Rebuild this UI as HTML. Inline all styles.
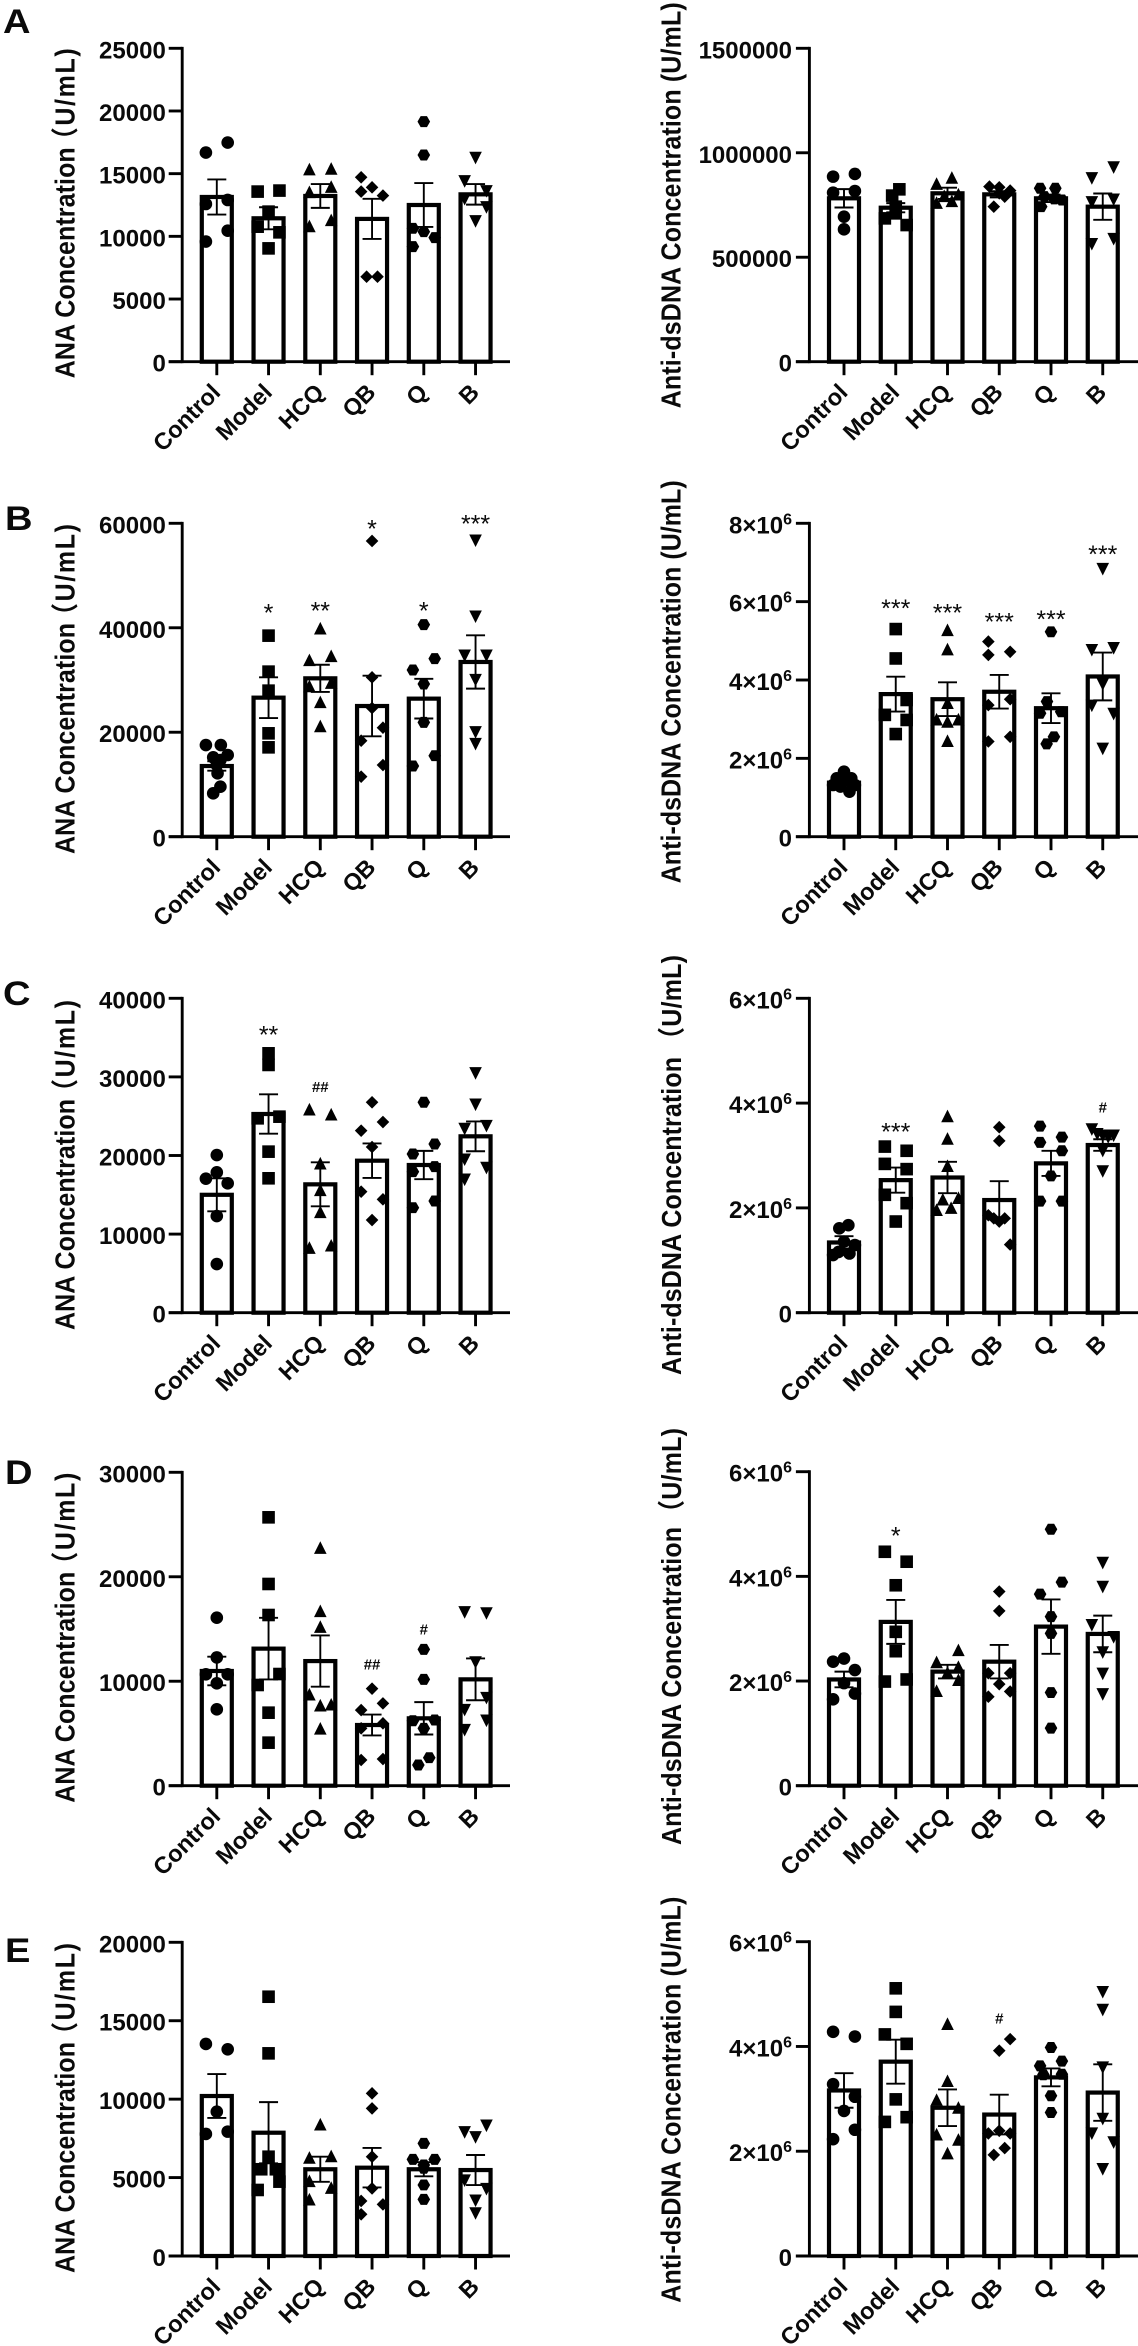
<!DOCTYPE html>
<html lang="en">
<head>
<meta charset="utf-8">
<title>ANA and Anti-dsDNA concentration bar charts</title>
<style>
html,body{margin:0;padding:0;background:#fff;}
svg{display:block;}
text{font-family:"Liberation Sans","Noto Sans CJK SC",sans-serif;fill:#0a0a0a;}
.title{font-size:25px;font-weight:bold;}
.letter{font-size:34px;font-weight:bold;}
.tick{font-size:24px;font-weight:bold;}
.xtick{font-size:23.5px;font-weight:bold;}
.sig{font-size:25px;}
.hash{font-size:15px;font-weight:bold;}
</style>
</head>
<body>
<svg id="figure" xmlns="http://www.w3.org/2000/svg" width="1138" height="2346" viewBox="0 0 1138 2346">
  <rect width="1138" height="2346" fill="#fff"/>
  <text class="letter" transform="translate(3,33) scale(1.12,1)">A</text>
  <text class="letter" transform="translate(5,530) scale(1.12,1)">B</text>
  <text class="letter" transform="translate(3,1005) scale(1.12,1)">C</text>
  <text class="letter" transform="translate(5,1484) scale(1.12,1)">D</text>
  <text class="letter" transform="translate(5,1962) scale(1.12,1)">E</text>

  <text class="title" transform="translate(74.5,378.3) rotate(-90) scale(1,1.1)"><tspan x="0" textLength="231">ANA Concentration</tspan><tspan x="226" textLength="104">（U/mL)</tspan></text>
  <text class="title" transform="translate(680.5,408.3) rotate(-90) scale(1,1.1)" textLength="406">Anti-dsDNA Concentration (U/mL)</text>
  <text class="title" transform="translate(74.5,854) rotate(-90) scale(1,1.1)"><tspan x="0" textLength="231">ANA Concentration</tspan><tspan x="226" textLength="104">（U/mL)</tspan></text>
  <text class="title" transform="translate(680.5,883.3) rotate(-90) scale(1,1.1)" textLength="403">Anti-dsDNA Concentration (U/mL)</text>
  <text class="title" transform="translate(74.5,1330) rotate(-90) scale(1,1.1)"><tspan x="0" textLength="231">ANA Concentration</tspan><tspan x="226" textLength="104">（U/mL)</tspan></text>
  <text class="title" transform="translate(681,1375) rotate(-90) scale(1,1.1)"><tspan x="0" textLength="318">Anti-dsDNA Concentration</tspan><tspan x="323" textLength="97">（U/mL)</tspan></text>
  <text class="title" transform="translate(74.5,1802.7) rotate(-90) scale(1,1.1)"><tspan x="0" textLength="231">ANA Concentration</tspan><tspan x="226" textLength="104">（U/mL)</tspan></text>
  <text class="title" transform="translate(681,1845) rotate(-90) scale(1,1.1)"><tspan x="0" textLength="318">Anti-dsDNA Concentration</tspan><tspan x="320" textLength="97">（U/mL)</tspan></text>
  <text class="title" transform="translate(74.5,2273) rotate(-90) scale(1,1.1)"><tspan x="0" textLength="231">ANA Concentration</tspan><tspan x="226" textLength="104">（U/mL)</tspan></text>
  <text class="title" transform="translate(680.5,2302.7) rotate(-90) scale(1,1.1)" textLength="406">Anti-dsDNA Concentration (U/mL)</text>
</svg>
<script>
const categories = ['Control','Model','HCQ','QB','Q','B'];
const markerShapes = ['circle','square','triangle','diamond','hexagon','triangleDown'];

/* Panel A, ANA */
const aAnaTicks = [0,5000,10000,15000,20000,25000];
const aAnaMeans = [13140,11440,13220,11390,12500,13350];
const aAnaSems = [1400,880,950,1600,1750,820];
const aAnaPoints = [[16680,17480,12580,12900,9580,10450],[13570,13650,11970,10770,10320,9040],[15300,15350,13490,13910,10770,11250],[14710,13910,13570,13250,6780,6780],[19150,16490,10640,10370,9900,9180],[16310,14440,13650,13030,12370,11250]];
const aAnaSlots = [[-1,1,-1,1,-1,1],[-1,1,0,-1,1,0],[-1,1,-1,1,-1,1],[-1,0,-1,1,-0.5,0.5],[0,0,-1,0,1,-1],[0,-1,1,-1,1,0]];
const aAnaSigLabels = ['','','','','',''];
const aAnaSigValues = [0,0,0,0,0,0];

/* Panel A, Anti-dsDNA */
const aDnaTicks = [0,500000,1000000,1500000];
const aDnaMeans = [782000,737000,806000,801000,782000,742000];
const aDnaSems = [44000,22000,27000,15000,18000,63000];
const aDnaPoints = [[885800,898500,809000,817000,694000,633600],[825000,795000,710000,686000,654000,742000],[849000,878000,798000,758000,766000,790000],[838000,835000,819000,742000,806000,790000],[830000,830000,790000,779000,774000,742000],[933000,881000,766000,779000,566000,590000]];
const aDnaSlots = [[-1,1,-1,1,0,0],[0.33,-0.33,0,-1,1,0],[-1,0.4,1,-1,0.4,-0.3],[-0.9,0,1,-0.5,0,0.5],[-1,0.4,-0.6,0.3,1,-0.9],[1,-1,-1,1,-1,1]];
const aDnaSigLabels = ['','','','','',''];
const aDnaSigValues = [0,0,0,0,0,0];

/* Panel B, ANA */
const bAnaTicks = [0,20000,40000,60000];
const bAnaMeans = [13530,26620,30320,25020,26430,33450];
const bAnaSems = [900,3900,2600,5800,3800,5100];
const bAnaPoints = [[17550,17550,15190,15640,14680,12130,9570,8300,13720],[38490,31600,27960,19790,17110],[39770,33700,34470,28720,29360,25660,21060],[56620,30510,24640,20870,18380,13720,11490],[40600,34090,31920,29230,21890,15510,13530],[56810,42260,34790,34790,30130,20110,17870]];
const bAnaSlots = [[-1,0.37,-0.33,1,0.33,0.07,0.33,-0.33,0],[0,0,0,0,0],[0,-1,1,-1,1,0,0],[0,0,0,1,-1,1,-1],[0,1,-1,0,0,1,-1],[0,0,-1,1,0,0,0]];
const bAnaSigLabels = ['','*','**','*','*','***'];
const bAnaSigValues = [0,43900,44300,60000,44300,60900];

/* Panel B, Anti-dsDNA */
const bDnaTicks = [0,2000000,4000000,6000000,8000000];
const bDnaMeans = [1380000,3640000,3510000,3700000,3280000,4090000];
const bDnaSems = [60000,445000,430000,430000,380000,610000];
const bDnaPoints = [[1660000,1490000,1490000,1570000,1320000,1320000,1150000,1280000],[5300000,4550000,3490000,3110000,2980000,2620000],[5260000,4770000,3400000,2980000,2920000,2980000,2430000],[4980000,4640000,4720000,3360000,3510000,2430000,2550000],[5230000,3450000,3150000,3190000,2550000,2370000],[6850000,4780000,4830000,3910000,3360000,3150000,2260000]];
const bDnaSlots = [[0,-0.67,0.67,0,-1,1,0.5,-0.33],[0,0,1,-1,1,0],[0,0,0,-1,0,1,0],[-1,-1,1,-1,1,-1,1],[0,-0.37,-1,0.93,0.27,-0.4],[0,-1,1,0,-1,1,0]];
const bDnaSigLabels = ['','***','***','***','***','***'];
const bDnaSigValues = [0,5960000,5850000,5620000,5680000,7350000];

/* Panel C, ANA */
const cAnaTicks = [0,10000,20000,30000,40000];
const cAnaMeans = [15000,25280,16330,19340,18790,22440];
const cAnaSems = [2100,2500,2800,2200,1800,1900];
const cAnaPoints = [[20060,17860,17050,16460,12300,6190],[33000,31520,24730,24940,20490,17100],[25790,25160,18920,15530,12730,8190,8480],[26770,24260,23160,21080,15400,14420,11790],[26770,21460,20190,18580,17940,14210,13360],[30540,26550,23840,23460,19560,18500,17010]];
const cAnaSlots = [[0,0,-1,1,0,0],[0,0,-1,1,0,0],[-1,1,0,0,0,-1,1],[0,1,-1,0,-1,1,0],[0,1,-1,1,-1,1,-1],[0,0,1,-1,-1,1,-1]];
const cAnaSigLabels = ['','**','##','','',''];
const cAnaSigValues = [0,36060,28760,0,0,0];

/* Panel C, Anti-dsDNA */
const cDnaTicks = [0,2000000,4000000,6000000];
const cDnaMeans = [1340000,2530000,2580000,2150000,2850000,3200000];
const cDnaSems = [120000,240000,300000,360000,240000,110000];
const cDnaPoints = [[1670000,1610000,1355000,1100000,1290000,1130000,1160000],[3170000,3090000,2840000,2740000,2250000,2090000,1740000],[3740000,3310000,2790000,2180000,2150000,1950000,1990000],[3540000,3280000,1860000,1800000,1740000,1800000,1300000],[3560000,3350000,3250000,3090000,2610000,2130000,2130000],[3510000,3420000,3390000,3360000,3390000,3100000,2710000]];
const cDnaSlots = [[0.4,-0.43,0,-1,1,0.5,-0.5],[-1,1,-1,1,-1,1,0],[0,0,0,1,-0.43,-1,0.33],[0,0,-1,-0.5,0,0.5,1],[-1,1,-1,1,0,-1,1],[-1,-0.5,0,0.5,1,0,0]];
const cDnaSigLabels = ['','***','','','','#'];
const cDnaSigValues = [0,3550000,0,0,0,3920000];

/* Panel D, ANA */
const dAnaTicks = [0,10000,20000,30000];
const dAnaMeans = [10980,13120,11930,5810,6450,10180];
const dAnaSems = [1370,2950,2450,1000,1550,2000];
const dAnaPoints = [[16080,12280,10660,10660,9800,7310],[25690,19310,16340,10690,9640,6990,4120],[22720,16660,15160,8680,7630,7720,5420],[9290,7880,7240,5970,5490,2460,2550],[13050,10180,6220,6290,5490,2680,1980],[16660,16560,11870,8460,7310,6290,5390]];
const dAnaSlots = [[0,0,-1,1,0,0],[0,0,0,1,-1,0,0],[0,0,0,-1,0,1,0],[0,1,-1,1,-1,-1,1],[0,0,-1,1,0,0.5,-0.5],[-1,1,0,1,-1,1,-1]];
const dAnaSigLabels = ['','','','##','#',''];
const dAnaSigValues = [0,0,0,11650,14970,0];

/* Panel D, Anti-dsDNA */
const dDnaTicks = [0,2000000,4000000,6000000];
const dDnaMeans = [2030000,3130000,2180000,2370000,3040000,2900000];
const dDnaSems = [150000,420000,130000,320000,520000,350000];
const dDnaPoints = [[2370000,2430000,2210000,1960000,1650000,1760000],[4470000,4280000,3830000,2940000,2570000,1990000,2030000],[2580000,2350000,2260000,2150000,2010000,1800000],[3710000,3340000,2150000,2150000,1940000,1800000,1700000],[4900000,3890000,3660000,3230000,2910000,1780000,1100000],[4270000,3810000,3080000,2850000,2560000,2150000,1760000]];
const dDnaSlots = [[-1,0,1,0,-1,1],[-1,1,0,0,0,-1,1],[1,-1,1,0,1,-1],[0,0,-1,1,0,1,-1],[0,1,-1,0,0,0,0],[0,0,-1,1,0,0,0]];
const dDnaSigLabels = ['','*','','','',''];
const dDnaSigValues = [0,4880000,0,0,0,0];

/* Panel E, ANA */
const eAnaTicks = [0,5000,10000,15000,20000];
const eAnaMeans = [10200,7860,5530,5630,5530,5480];
const eAnaSems = [1400,1950,800,1260,450,960];
const eAnaPoints = [[13520,13180,9200,7780,7930],[16530,12920,6330,5530,5530,4210,4740],[8350,6230,6330,4740,4310,3570],[10370,9410,6330,4310,3510,3290,2660],[7180,6160,6160,5800,5590,4530,3610],[8350,7930,7610,4850,4310,3570,2760]];
const eAnaSlots = [[-1,1,0,-1,1],[0,0,0,-0.67,0.67,-1,1],[0,-1,1,-1,1,-1],[0,0,0,0,-1,1,-1],[0,-1,1,0,0,0,0],[1,-1,0,-1,1,0,0]];
const eAnaSigLabels = ['','','','','',''];
const eAnaSigValues = [0,0,0,0,0,0];

/* Panel E, Anti-dsDNA */
const eDnaTicks = [0,2000000,4000000,6000000];
const eDnaMeans = [3160000,3710000,2830000,2700000,3410000,3120000];
const eDnaSems = [330000,420000,350000,380000,170000,540000];
const eDnaPoints = [[4280000,4190000,3280000,3040000,2770000,2410000,2230000],[5110000,4660000,4230000,4050000,2990000,2560000,2650000],[4420000,3330000,2970000,2820000,2310000,2210000,1950000],[4140000,3920000,2390000,2340000,2340000,2060000,1930000],[3980000,3630000,3720000,3460000,3470000,3060000,2740000],[5050000,4710000,3610000,2630000,2350000,2180000,1670000]];
const eDnaSlots = [[-1,1,-1,1,0,1,-1],[0,0,-1,1,0,-1,1],[0,0,-1,1,-1,1,0],[1,0,0,-1,1,0.5,-0.5],[0,-1,1,-0.7,1,0,0],[0,0,0,0,-1,1,0]];
const eDnaSigLabels = ['','','','#','',''];
const eDnaSigValues = [0,0,0,4540000,0,0];

const panels = [
  {name:'a-ana',side:'left',top:48.3,base:361.7,ticks:aAnaTicks,means:aAnaMeans,sems:aAnaSems,points:aAnaPoints,slots:aAnaSlots,sigLabels:aAnaSigLabels,sigValues:aAnaSigValues,sci:false},
  {name:'a-dsdna',side:'right',top:48.3,base:361.7,ticks:aDnaTicks,means:aDnaMeans,sems:aDnaSems,points:aDnaPoints,slots:aDnaSlots,sigLabels:aDnaSigLabels,sigValues:aDnaSigValues,sci:false},
  {name:'b-ana',side:'left',top:523.3,base:836.7,ticks:bAnaTicks,means:bAnaMeans,sems:bAnaSems,points:bAnaPoints,slots:bAnaSlots,sigLabels:bAnaSigLabels,sigValues:bAnaSigValues,sci:false},
  {name:'b-dsdna',side:'right',top:523.3,base:836.7,ticks:bDnaTicks,means:bDnaMeans,sems:bDnaSems,points:bDnaPoints,slots:bDnaSlots,sigLabels:bDnaSigLabels,sigValues:bDnaSigValues,sci:true},
  {name:'c-ana',side:'left',top:998.3,base:1312.7,ticks:cAnaTicks,means:cAnaMeans,sems:cAnaSems,points:cAnaPoints,slots:cAnaSlots,sigLabels:cAnaSigLabels,sigValues:cAnaSigValues,sci:false},
  {name:'c-dsdna',side:'right',top:998.3,base:1312.7,ticks:cDnaTicks,means:cDnaMeans,sems:cDnaSems,points:cDnaPoints,slots:cDnaSlots,sigLabels:cDnaSigLabels,sigValues:cDnaSigValues,sci:true},
  {name:'d-ana',side:'left',top:1472.3,base:1785.7,ticks:dAnaTicks,means:dAnaMeans,sems:dAnaSems,points:dAnaPoints,slots:dAnaSlots,sigLabels:dAnaSigLabels,sigValues:dAnaSigValues,sci:false},
  {name:'d-dsdna',side:'right',top:1471.7,base:1785.7,ticks:dDnaTicks,means:dDnaMeans,sems:dDnaSems,points:dDnaPoints,slots:dDnaSlots,sigLabels:dDnaSigLabels,sigValues:dDnaSigValues,sci:true},
  {name:'e-ana',side:'left',top:1942.3,base:2256,ticks:eAnaTicks,means:eAnaMeans,sems:eAnaSems,points:eAnaPoints,slots:eAnaSlots,sigLabels:eAnaSigLabels,sigValues:eAnaSigValues,sci:false},
  {name:'e-dsdna',side:'right',top:1941.7,base:2256,ticks:eDnaTicks,means:eDnaMeans,sems:eDnaSems,points:eDnaPoints,slots:eDnaSlots,sigLabels:eDnaSigLabels,sigValues:eDnaSigValues,sci:true}
];

const sideLayout = {
  left:{axisX:182.2,firstCenter:216.8,xEnd:510,labelX:165.8},
  right:{axisX:809.4,firstCenter:844,xEnd:1138,labelX:792}
};
const categoryStep = 51.75;
const slotWidth = 10.9;
const markerRadius = 6.3;
const svgNS = 'http://www.w3.org/2000/svg';
const figure = document.getElementById('figure');

function make(tag, attrs, parent){
  const node = document.createElementNS(svgNS, tag);
  Object.keys(attrs).forEach(function(k){ node.setAttribute(k, attrs[k]); });
  parent.appendChild(node);
  return node;
}

function polygonPoints(cx, cy, offsets){
  return offsets.map(function(o){ return (cx + o[0]).toFixed(2) + ',' + (cy + o[1]).toFixed(2); }).join(' ');
}

function drawMarker(shape, cx, cy, parent){
  const r = markerRadius;
  let el;
  if (shape === 'circle') {
    el = make('circle', {cx:cx, cy:cy, r:r, fill:'#000'}, parent);
  } else if (shape === 'square') {
    el = make('rect', {x:cx - r, y:cy - r, width:2 * r, height:2 * r, fill:'#000'}, parent);
  } else if (shape === 'triangle') {
    el = make('polygon', {points:polygonPoints(cx, cy, [[0,-r - 0.8],[r,r - 0.8],[-r,r - 0.8]]), fill:'#000'}, parent);
  } else if (shape === 'triangleDown') {
    el = make('polygon', {points:polygonPoints(cx, cy, [[0,r + 0.8],[r,-r + 0.8],[-r,-r + 0.8]]), fill:'#000'}, parent);
  } else if (shape === 'diamond') {
    el = make('polygon', {points:polygonPoints(cx, cy, [[0,-r],[r,0],[0,r],[-r,0]]), fill:'#000'}, parent);
  } else {
    el = make('polygon', {points:polygonPoints(cx, cy, [[-r,0],[-r / 2,-r * 0.87],[r / 2,-r * 0.87],[r,0],[r / 2,r * 0.87],[-r / 2,r * 0.87]]), fill:'#000'}, parent);
  }
  return el;
}

function drawPanel(panel){
  const layout = sideLayout[panel.side];
  const maxValue = panel.ticks[panel.ticks.length - 1];
  const yScale = function(v){ return panel.base - (v / maxValue) * (panel.base - panel.top); };
  const xScale = function(i){ return layout.firstCenter + i * categoryStep; };

  const group = make('g', {}, figure);
  
  

  panel.means.forEach(function(mean, i){
    const cx = xScale(i);
    const bar = make('rect', {x:cx - 15, y:yScale(mean), width:30, height:panel.base - yScale(mean), fill:'#fff', stroke:'#000', 'stroke-width':4.2}, group);
    
    
  });

  panel.points.forEach(function(values, i){
    values.forEach(function(value, j){
      const cx = xScale(i) + panel.slots[i][j] * slotWidth;
      const marker = drawMarker(markerShapes[i], cx, yScale(value), group);
      
      
    });
  });

  panel.means.forEach(function(mean, i){
    const cx = xScale(i);
    const hi = yScale(mean + panel.sems[i]);
    const lo = yScale(mean - panel.sems[i]);
    const stem = make('line', {x1:cx, x2:cx, y1:hi, y2:lo, stroke:'#000', 'stroke-width':1.9}, group);
    
    
    const capTop = make('line', {x1:cx - 9.5, x2:cx + 9.5, y1:hi, y2:hi, stroke:'#000', 'stroke-width':1.9}, group);
    
    
    const capBottom = make('line', {x1:cx - 9.5, x2:cx + 9.5, y1:lo, y2:lo, stroke:'#000', 'stroke-width':1.9}, group);
    
    
  });

  const yAxis = make('line', {x1:layout.axisX, x2:layout.axisX, y1:panel.top - 1.4, y2:panel.base + 1.4, stroke:'#000', 'stroke-width':2.9}, group);
  
  
  const xAxis = make('line', {x1:layout.axisX - 13.5, x2:layout.xEnd, y1:panel.base, y2:panel.base, stroke:'#000', 'stroke-width':2.9}, group);
  
  

  panel.ticks.forEach(function(tick){
    const y = yScale(tick);
    const mark = make('line', {x1:layout.axisX - 13.5, x2:layout.axisX, y1:y, y2:y, stroke:'#000', 'stroke-width':2.9}, group);
    
    
    const label = make('text', {'class':'tick', x:layout.labelX, y:y + 10, 'text-anchor':'end'}, group);
    
    
    if (panel.sci && tick !== 0) {
      label.appendChild(document.createTextNode((tick / 1000000) + '×10'));
      const sup = make('tspan', {dy:-9, 'font-size':'16px'}, label);
      sup.textContent = '6';
    } else {
      label.textContent = String(tick);
    }
  });

  categories.forEach(function(name, i){
    const cx = xScale(i);
    const mark = make('line', {x1:cx, x2:cx, y1:panel.base, y2:panel.base + 13.5, stroke:'#000', 'stroke-width':2.9}, group);
    
    
    const lx = cx + 5;
    const ly = panel.base + 32;
    const label = make('text', {'class':'xtick', x:lx, y:ly, 'text-anchor':'end', transform:'rotate(-45 ' + lx + ' ' + ly + ')'}, group);
    
    
    label.textContent = name;
  });

  panel.sigLabels.forEach(function(mark, i){
    if (!mark) { return; }
    const isHash = mark.charAt(0) === '#';
    const y = yScale(panel.sigValues[i]) + (isHash ? 5.4 : 14);
    const label = make('text', {'class':isHash ? 'hash' : 'sig', x:xScale(i), y:y, 'text-anchor':'middle'}, group);
    
    
    label.textContent = mark;
  });
}

panels.forEach(drawPanel);
</script>
</body>
</html>
